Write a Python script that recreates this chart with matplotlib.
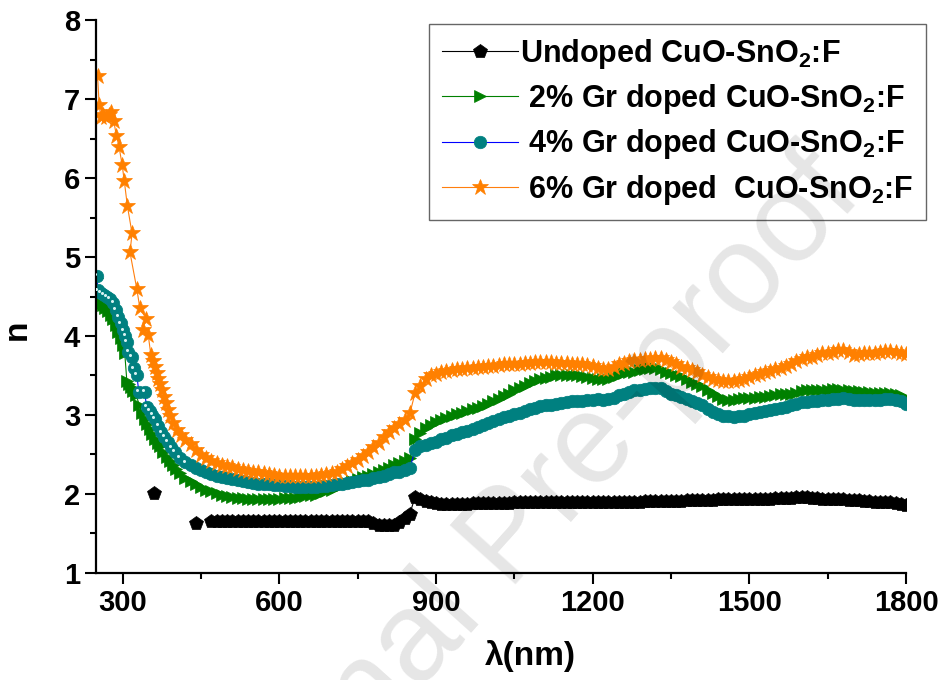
import numpy as np
import matplotlib.pyplot as plt
from matplotlib.ticker import MultipleLocator
from matplotlib.transforms import offset_copy

plt.rcParams['font.family'] = ['Liberation Sans', 'DejaVu Sans']
plt.rcParams['font.weight'] = 'bold'
plt.rcParams['mathtext.fontset'] = 'custom'
plt.rcParams['mathtext.rm'] = 'Liberation Sans:bold'
plt.rcParams['mathtext.bf'] = 'Liberation Sans:bold'
plt.rcParams['mathtext.default'] = 'rm'

nan = np.nan

# common wavelength grid above 430 nm
wl_grid = np.arange(430, 1801, 10)

# --- Undoped CuO-SnO2:F ---
undoped_x_uv = [360]
undoped_n_uv = [2.01]
undoped_n = [
    nan, 1.63, nan, nan, 1.66, 1.66, 1.66, 1.66, 1.66, 1.66,
    1.66, 1.66, 1.66, 1.66, 1.66, 1.66, 1.66, 1.66, 1.66, 1.66,
    1.66, 1.66, 1.66, 1.66, 1.66, 1.66, 1.66, 1.66, 1.66, 1.66,
    1.66, 1.66, 1.66, 1.66, 1.65, 1.63, 1.61, 1.60, 1.60, 1.60,
    1.64, 1.69, 1.75, 1.96, 1.93, 1.91, 1.89, 1.88, 1.87, 1.87,
    1.87, 1.87, 1.87, 1.87, 1.88, 1.88, 1.88, 1.88, 1.88, 1.88,
    1.88, 1.88, 1.89, 1.89, 1.89, 1.89, 1.89, 1.89, 1.89, 1.89,
    1.89, 1.89, 1.89, 1.90, 1.90, 1.90, 1.90, 1.90, 1.90, 1.90,
    1.90, 1.90, 1.90, 1.90, 1.90, 1.90, 1.90, 1.91, 1.91, 1.91,
    1.91, 1.91, 1.91, 1.91, 1.91, 1.92, 1.92, 1.92, 1.92, 1.92,
    1.92, 1.93, 1.93, 1.93, 1.93, 1.93, 1.94, 1.94, 1.94, 1.94,
    1.94, 1.94, 1.95, 1.95, 1.95, 1.95, 1.96, 1.96, 1.96, 1.95,
    1.95, 1.94, 1.94, 1.93, 1.93, 1.93, 1.92, 1.92, 1.92, 1.91,
    1.91, 1.90, 1.90, 1.89, 1.89, 1.88, 1.87, 1.86,
]

# --- 2% Gr doped ---
gr2_x_uv = [250, 252, 257, 262, 267, 272, 277, 282, 287, 292, 296, 300,
            304, 308, 312, 316, 320, 326, 332, 337, 342, 347, 352, 357,
            362, 367, 372, 378, 384, 390, 396, 402, 410, 420]
gr2_n_uv = [4.74, 4.43, 4.41, 4.39, 4.36, 4.32, 4.27, 4.21, 4.14, 4.05, 3.97, 3.88,
            3.78, 3.43, 3.39, 3.35, 3.30, 3.25, 3.12, 3.03, 2.95, 2.88, 2.82, 2.76,
            2.70, 2.65, 2.60, 2.53, 2.47, 2.42, 2.37, 2.32, 2.26, 2.20]
gr2_n = [
    2.16, 2.12, 2.08, 2.05, 2.03, 2.01, 1.99, 1.97, 1.96, 1.95,
    1.95, 1.94, 1.94, 1.94, 1.94, 1.94, 1.94, 1.94, 1.95, 1.95,
    1.95, 1.96, 1.97, 1.98, 1.99, 2.01, 2.03, 2.05, 2.08, 2.11,
    2.14, 2.16, 2.19, 2.21, 2.23, 2.25, 2.28, 2.30, 2.33, 2.36,
    2.39, 2.42, 2.46, 2.70, 2.77, 2.83, 2.87, 2.91, 2.94, 2.96,
    2.99, 3.01, 3.03, 3.05, 3.07, 3.09, 3.11, 3.14, 3.17, 3.20,
    3.24, 3.27, 3.31, 3.34, 3.37, 3.40, 3.43, 3.45, 3.47, 3.48,
    3.50, 3.50, 3.50, 3.51, 3.50, 3.49, 3.48, 3.47, 3.46, 3.45,
    3.46, 3.48, 3.51, 3.53, 3.54, 3.55, 3.57, 3.58, 3.59, 3.59,
    3.58, 3.55, 3.53, 3.51, 3.49, 3.46, 3.42, 3.39, 3.36, 3.32,
    3.28, 3.24, 3.20, 3.19, 3.19, 3.20, 3.21, 3.21, 3.22, 3.23,
    3.23, 3.24, 3.25, 3.26, 3.26, 3.27, 3.28, 3.30, 3.31, 3.31,
    3.31, 3.32, 3.32, 3.33, 3.33, 3.32, 3.31, 3.30, 3.30, 3.29,
    3.29, 3.28, 3.28, 3.28, 3.28, 3.27, 3.25, 3.22,
]

# --- 4% Gr doped ---
gr4_x_uv = [251, 252, 258, 264, 270, 276, 282, 287, 292, 297, 301, 305,
            308, 311, 317, 321, 327, 331, 342, 346, 352, 357, 362, 368,
            374, 380, 386, 393, 400, 410, 420]
gr4_n_uv = [4.76, 4.58, 4.55, 4.52, 4.50, 4.47, 4.42, 4.33, 4.24, 4.16, 4.07, 4.00,
            3.93, 3.80, 3.74, 3.59, 3.51, 3.29, 3.29, 3.10, 3.05, 3.00, 2.95, 2.86,
            2.78, 2.72, 2.66, 2.59, 2.53, 2.46, 2.40]
gr4_n = [
    2.36, 2.33, 2.30, 2.27, 2.25, 2.23, 2.21, 2.20, 2.19, 2.17,
    2.16, 2.15, 2.14, 2.13, 2.12, 2.12, 2.11, 2.11, 2.10, 2.10,
    2.09, 2.09, 2.09, 2.09, 2.09, 2.10, 2.10, 2.11, 2.12, 2.13,
    2.14, 2.15, 2.16, 2.17, 2.18, 2.20, 2.21, 2.23, 2.25, 2.27,
    2.28, 2.30, 2.33, 2.55, 2.60, 2.62, 2.64, 2.66, 2.69, 2.71,
    2.74, 2.76, 2.78, 2.80, 2.82, 2.85, 2.87, 2.90, 2.92, 2.95,
    2.97, 2.99, 3.01, 3.03, 3.05, 3.07, 3.09, 3.11, 3.12, 3.13,
    3.14, 3.15, 3.16, 3.17, 3.18, 3.18, 3.19, 3.19, 3.20, 3.19,
    3.20, 3.22, 3.25, 3.27, 3.29, 3.31, 3.32, 3.33, 3.34, 3.34,
    3.34, 3.30, 3.26, 3.25, 3.23, 3.20, 3.17, 3.15, 3.12, 3.08,
    3.04, 3.01, 2.99, 2.98, 2.97, 2.98, 2.99, 3.01, 3.02, 3.04,
    3.05, 3.06, 3.07, 3.09, 3.10, 3.12, 3.14, 3.16, 3.16, 3.17,
    3.18, 3.19, 3.19, 3.20, 3.20, 3.21, 3.20, 3.19, 3.19, 3.19,
    3.19, 3.19, 3.19, 3.20, 3.20, 3.19, 3.17, 3.14,
]

# --- 6% Gr doped ---
gr6_x_uv = [252, 255, 258, 263, 268, 273, 278, 283, 288, 293, 299, 303,
            309, 318, 314, 327, 333, 345, 338, 349, 354, 358, 362, 365,
            368, 372, 375, 379, 383, 387, 391, 397, 404, 412, 420]
gr6_n_uv = [7.29, 6.93, 6.78, 6.80, 6.78, 6.80, 6.84, 6.72, 6.54, 6.40, 6.17, 5.97,
            5.65, 5.30, 5.06, 4.60, 4.35, 4.22, 4.08, 4.01, 3.76, 3.68, 3.61, 3.53,
            3.46, 3.39, 3.32, 3.23, 3.15, 3.06, 2.98, 2.90, 2.81, 2.74, 2.68]
gr6_n = [
    2.63, 2.55, 2.49, 2.45, 2.42, 2.39, 2.37, 2.35, 2.34, 2.32,
    2.30, 2.29, 2.28, 2.27, 2.26, 2.25, 2.24, 2.23, 2.23, 2.22,
    2.22, 2.22, 2.22, 2.23, 2.23, 2.24, 2.25, 2.26, 2.28, 2.31,
    2.35, 2.39, 2.43, 2.48, 2.53, 2.59, 2.65, 2.72, 2.78, 2.84,
    2.89, 2.94, 3.02, 3.28, 3.36, 3.46, 3.51, 3.52, 3.54, 3.56,
    3.57, 3.58, 3.58, 3.59, 3.60, 3.61, 3.61, 3.62, 3.62, 3.63,
    3.64, 3.64, 3.65, 3.65, 3.66, 3.66, 3.67, 3.67, 3.67, 3.67,
    3.66, 3.66, 3.66, 3.65, 3.65, 3.64, 3.63, 3.62, 3.60, 3.58,
    3.58, 3.61, 3.64, 3.66, 3.68, 3.69, 3.70, 3.71, 3.71, 3.72,
    3.72, 3.70, 3.67, 3.64, 3.61, 3.59, 3.57, 3.54, 3.51, 3.48,
    3.45, 3.44, 3.43, 3.43, 3.43, 3.44, 3.46, 3.48, 3.50, 3.52,
    3.54, 3.56, 3.58, 3.60, 3.62, 3.65, 3.68, 3.71, 3.73, 3.74,
    3.76, 3.78, 3.79, 3.80, 3.82, 3.82, 3.80, 3.76, 3.77, 3.78,
    3.78, 3.79, 3.80, 3.81, 3.81, 3.80, 3.78, 3.77,
]

labels = ['Undoped CuO-SnO$_2$:F',
          ' 2% Gr doped CuO-SnO$_2$:F',
          ' 4% Gr doped CuO-SnO$_2$:F',
          ' 6% Gr doped  CuO-SnO$_2$:F']


def join(x_uv, n_uv, n_grid):
    return np.concatenate([x_uv, wl_grid]), np.concatenate([n_uv, n_grid])


fig = plt.figure(figsize=(9.48, 6.8), dpi=100)
ax = fig.add_axes([0.1013, 0.1578, 0.8544, 0.8122])

x0, y0 = join(undoped_x_uv, undoped_n_uv, undoped_n)
x1, y1 = join(gr2_x_uv, gr2_n_uv, gr2_n)
x2, y2 = join(gr4_x_uv, gr4_n_uv, gr4_n)
x3, y3 = join(gr6_x_uv, gr6_n_uv, gr6_n)

ax.plot(x0, y0, color='black', lw=0.8, marker='p', ms=10, mec='black', mew=0.5,
        label=labels[0])
ax.plot(x1, y1, color='#008000', lw=0.8, marker='>', ms=9, mec='#008000', mew=0.5,
        label=labels[1])
ax.plot(x2, y2, color='blue', lw=0.8, marker='o', ms=9, mfc='#008080', mec='#008080',
        mew=0.5, label=labels[2])
ax.plot(x3, y3, color='#ff7f0e', lw=0.8, marker='*', ms=12, mfc='#ff8000', mec='#ff8000',
        mew=0.5, label=labels[3])

# little specular spot on each sparse 4% sphere
shine = offset_copy(ax.transData, fig=fig, x=-1.2, y=1.2, units='points')
ax.plot(gr4_x_uv, gr4_n_uv, ls='none', marker='o', ms=2.2, mfc='#d8f2f2', mec='none',
        transform=shine, zorder=3)

ax.set_xlim(249, 1800)
ax.set_ylim(1, 8)
ax.xaxis.set_major_locator(MultipleLocator(300))
ax.xaxis.set_minor_locator(MultipleLocator(150))
ax.yaxis.set_major_locator(MultipleLocator(1))
ax.yaxis.set_minor_locator(MultipleLocator(0.5))
ax.tick_params(which='major', direction='out', length=8, width=1.5, labelsize=21)
ax.tick_params(which='minor', direction='out', length=4, width=1.5)
for lab in ax.get_xticklabels() + ax.get_yticklabels():
    lab.set_fontweight('bold')

for side in ['top', 'right']:
    ax.spines[side].set_visible(False)
for side in ['left', 'bottom']:
    ax.spines[side].set_linewidth(1.6)

ax.set_xlabel('λ(nm)', fontsize=24, fontweight='bold')
ax.xaxis.set_label_coords(0.536, -0.122)
ax.set_ylabel('n', fontsize=24, fontweight='bold')
ax.yaxis.set_label_coords(-0.078, 0.44)

leg = ax.legend(loc='upper left', bbox_to_anchor=(0.411, 0.9935), borderaxespad=0,
                fontsize=22, frameon=True, fancybox=False, handlelength=2.5,
                handletextpad=0.05, labelspacing=0.37, borderpad=0.42)
leg.get_frame().set_edgecolor('#404040')
leg.get_frame().set_linewidth(1.0)

fig.text(0.538, 0.206, 'Journal Pre-proof', fontsize=92, color='black', alpha=0.1,
         rotation=48, ha='center', va='center', rotation_mode='anchor',
         family='Liberation Sans', fontweight='normal', zorder=10)

fig.savefig('out.png', dpi=100)
